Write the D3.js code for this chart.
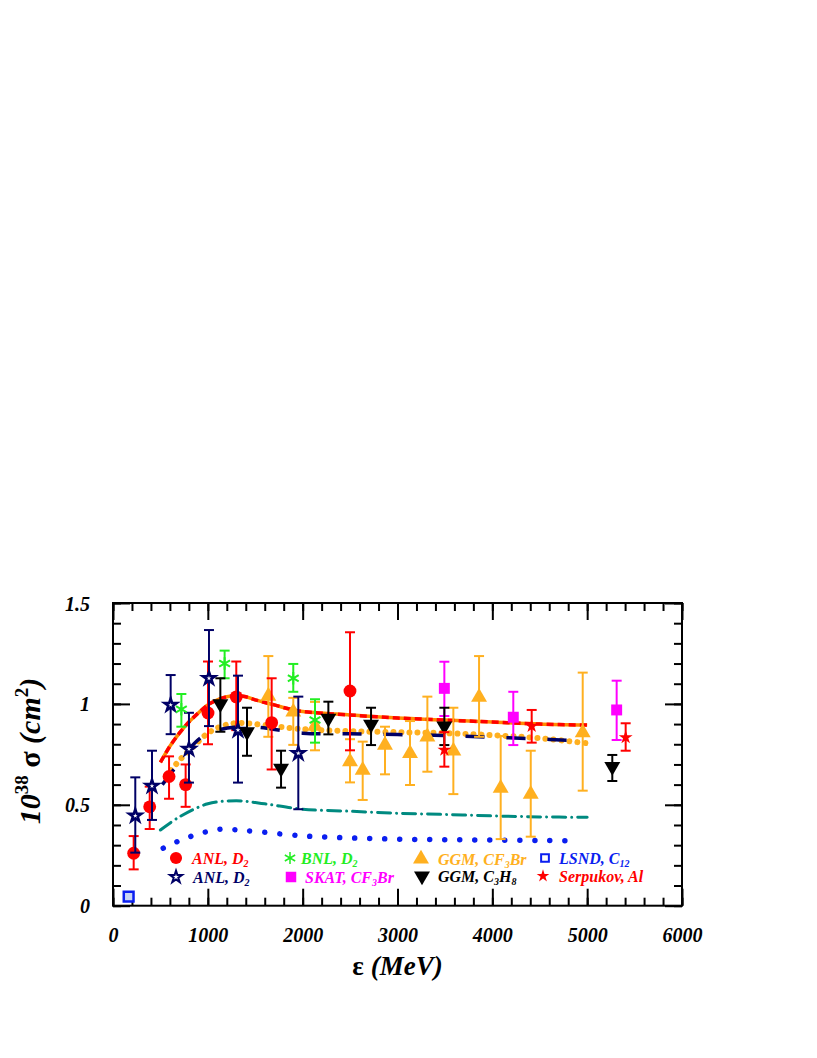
<!DOCTYPE html>
<html>
<head>
<meta charset="utf-8">
<script src="https://cdn.jsdelivr.net/npm/d3@7"></script>
<style>
  body { margin: 0; background: #fff; }
  svg text { font-family: "Liberation Serif", "Times New Roman", serif; }
</style>
</head>
<body>
<svg id="chart" width="817" height="1058"></svg>
<script>
// axes ticks
const xMajor = [0, 1000, 2000, 3000, 4000, 5000, 6000];
const xTickLabels = ["0", "1000", "2000", "3000", "4000", "5000", "6000"];
const yMajor = [0, 0.5, 1, 1.5];
const yTickLabels = ["0", "0.5", "1", "1.5"];
const xMinor = d3.range(0, 6001, 200);
const yMinor = d3.range(0, 1.501, 0.1);

// data points: [E (MeV), sigma, low, high]
const anlRed = [
  [218, 0.26, 0.18, 0.345], [387, 0.49, 0.38, 0.59], [591, 0.64, 0.53, 0.74],
  [766, 0.60, 0.49, 0.70], [1002, 0.955, 0.80, 1.21], [1300, 1.035, 0.87, 1.21],
  [1673, 0.907, 0.675, 1.127], [2499, 1.064, 0.77, 1.355]
];
const anlNavy = [
  [235, 0.446, 0.263, 0.636], [411, 0.593, 0.425, 0.768], [608, 0.995, 0.85, 1.143],
  [801, 0.776, 0.61, 0.956], [1012, 1.127, 0.89, 1.366], [1318, 0.87, 0.61, 1.14],
  [1954, 0.755, 0.478, 1.036]
];
const bnl = [
  [721, 0.973, 0.887, 1.049], [1177, 1.20, 1.127, 1.264],
  [1901, 1.127, 1.06, 1.198], [2130, 0.92, 0.808, 1.023]
];
const ggmCF3Br = [
  [1638, 1.039, 0.837, 1.237], [1901, 0.96, 0.797, 1.03], [2130, 0.89, 0.77, 1.01],
  [2499, 0.714, 0.611, 0.825], [2633, 0.672, 0.524, 0.813], [2868, 0.796, 0.651, 0.887],
  [3132, 0.755, 0.598, 0.915], [3315, 0.837, 0.664, 1.036], [3589, 0.767, 0.553, 0.981],
  [3860, 1.033, 0.837, 1.237], [4088, 0.582, 0.33, 0.841], [4405, 0.553, 0.342, 0.768],
  [4953, 0.857, 0.57, 1.155]
];
const skat = [
  [3494, 1.077, 0.94, 1.209], [4221, 0.934, 0.796, 1.06], [5311, 0.97, 0.821, 1.115]
];
const ggmC3H8 = [
  [1132, 1.0, 0.862, 1.127], [1413, 0.862, 0.743, 0.981], [1772, 0.681, 0.585, 0.768],
  [2271, 0.929, 0.849, 1.011], [2721, 0.899, 0.796, 0.981], [3494, 0.89, 0.796, 0.981],
  [5265, 0.689, 0.618, 0.747]
];
const serpukov = [
  [3494, 0.772, 0.689, 0.86], [4415, 0.89, 0.808, 0.97], [5406, 0.834, 0.768, 0.904]
];
const lsnd = [[165, 0.045, 0.035, 0.055]];

// model curves: [E, sigma]
const curveSolid = [
  [500, 0.71], [600, 0.79], [700, 0.855], [800, 0.91], [900, 0.955], [1000, 0.995],
  [1100, 1.02], [1200, 1.035], [1300, 1.04], [1400, 1.035], [1500, 1.02], [1700, 0.995],
  [1900, 0.97], [2000, 0.962], [2500, 0.945], [3000, 0.93], [3500, 0.92], [4000, 0.91],
  [4500, 0.9], [5000, 0.895]
];
const curveDashed = curveSolid;
const curveOrangeDots = [
  [560, 0.64], [700, 0.72], [850, 0.79], [1000, 0.855], [1150, 0.89], [1300, 0.905],
  [1500, 0.9], [2000, 0.875], [2500, 0.865], [3000, 0.86], [3500, 0.855], [4000, 0.845],
  [4500, 0.83], [5000, 0.805]
];
const curveNavy = [
  [520, 0.6], [650, 0.68], [800, 0.775], [950, 0.84], [1100, 0.87], [1300, 0.885],
  [1500, 0.885], [2000, 0.855], [2500, 0.852], [3000, 0.848], [3500, 0.843],
  [4000, 0.835], [4500, 0.826], [4800, 0.82]
];
const curveTeal = [
  [500, 0.375], [700, 0.44], [1000, 0.505], [1300, 0.52], [1600, 0.505], [2000, 0.478],
  [2500, 0.468], [3000, 0.458], [3500, 0.452], [4000, 0.445], [4500, 0.44], [5000, 0.438]
];
const curveBlue = [
  [530, 0.285], [680, 0.318], [830, 0.345], [1000, 0.368], [1150, 0.38], [1300, 0.376],
  [1500, 0.368], [2000, 0.346], [2500, 0.336], [3000, 0.33], [3500, 0.327],
  [4000, 0.325], [4500, 0.323], [4900, 0.322]
];

const pLeft = 113, pRight = 682, pTop = 603, pBottom = 905.7;
const x = d3.scaleLinear().domain([0, 6000]).range([pLeft, pRight]);
const y = d3.scaleLinear().domain([0, 1.5]).range([pBottom, pTop]);

const svg = d3.select("#chart");
svg.append("rect").attr("width", 817).attr("height", 1058).attr("fill", "#fff");

// ticks on four sides
function ticks(axis, tr, vals, size) {
  const g = svg.append("g").attr("transform", tr)
    .call(axis.tickValues(vals).tickSize(-size).tickFormat(""));
  g.select(".domain").remove();
  g.selectAll("line").attr("stroke", "#000").attr("stroke-width", 2);
  return g;
}
ticks(d3.axisBottom(x), `translate(0,${pBottom})`, xMinor, 8);
ticks(d3.axisTop(x), `translate(0,${pTop})`, xMinor, 8);
ticks(d3.axisLeft(y), `translate(${pLeft},0)`, yMinor, 8);
ticks(d3.axisRight(y), `translate(${pRight},0)`, yMinor, 8);
ticks(d3.axisTop(x), `translate(0,${pTop})`, xMajor, 17);
ticks(d3.axisRight(y), `translate(${pRight},0)`, yMajor, 17);

const gxb = svg.append("g").attr("transform", `translate(0,${pBottom})`)
  .call(d3.axisBottom(x).tickValues(xMajor).tickSize(-17).tickFormat((d, i) => xTickLabels[i]));
gxb.select(".domain").remove();
gxb.selectAll("line").attr("stroke", "#000").attr("stroke-width", 2);
gxb.selectAll("text").attr("y", 36).attr("dy", 0)
  .style("font-size", "20px").style("font-weight", "bold").style("font-style", "italic")
  .attr("fill", "#000");

const gyl = svg.append("g").attr("transform", `translate(${pLeft},0)`)
  .call(d3.axisLeft(y).tickValues(yMajor).tickSize(-17).tickFormat((d, i) => yTickLabels[i]));
gyl.select(".domain").remove();
gyl.selectAll("line").attr("stroke", "#000").attr("stroke-width", 2);
gyl.selectAll("text").attr("x", -23).attr("dy", "0.35em")
  .style("font-size", "20px").style("font-weight", "bold").style("font-style", "italic")
  .attr("fill", "#000");

svg.append("rect").attr("x", pLeft).attr("y", pTop)
  .attr("width", pRight - pLeft).attr("height", pBottom - pTop)
  .attr("fill", "none").attr("stroke", "#000").attr("stroke-width", 2);

// curves
const line = d3.line().x(d => x(d[0])).y(d => y(d[1])).curve(d3.curveCatmullRom);
function curve(data, color, width, dash, cap) {
  svg.append("path").attr("d", line(data)).attr("fill", "none")
    .attr("stroke", color).attr("stroke-width", width)
    .attr("stroke-dasharray", dash).attr("stroke-linecap", cap || "butt");
}
curve(curveBlue, "#0a1ef0", 5.5, "0.01 15", "round");
curve(curveTeal, "#008a80", 3, "13 6 0.01 6", "round");
curve(curveOrangeDots, "#ffb020", 6, "0.01 8", "round");
curve(curveNavy, "#000066", 3.5, "19 22");
curve(curveSolid, "#ff8c00", 3.5, null);
curve(curveDashed, "#ff0000", 3.5, "7 4");

// error bars + markers
function series(data, color, symbol, size, fill, strokeW) {
  const g = svg.append("g");
  data.forEach(d => {
    const cx = x(d[0]);
    g.append("line").attr("x1", cx).attr("x2", cx).attr("y1", y(d[2])).attr("y2", y(d[3]))
      .attr("stroke", color).attr("stroke-width", 2);
    [d[2], d[3]].forEach(v => {
      g.append("line").attr("x1", cx - 5).attr("x2", cx + 5).attr("y1", y(v)).attr("y2", y(v))
        .attr("stroke", color).attr("stroke-width", 2);
    });
  });
  g.selectAll("path.m").data(data).enter().append("path").attr("class", "m")
    .attr("transform", d => `translate(${x(d[0])},${y(d[1])})` + (symbol.rot ? ` rotate(${symbol.rot})` : ""))
    .attr("d", d3.symbol().type(symbol.type).size(size))
    .attr("fill", fill).attr("stroke", color).attr("stroke-width", strokeW || 0);
}
const star = { type: d3.symbolStar };
series(ggmCF3Br, "#ffb020", { type: d3.symbolTriangle }, 110, "#ffb020");
series(anlRed, "#ff0000", { type: d3.symbolCircle }, 130, "#ff0000");
series(anlNavy, "#000066", star, 48, "#fff", 2.5);
series(bnl, "#22ee22", { type: d3.symbolAsterisk }, 110, "none", 2);
series(skat, "#ff00ff", { type: d3.symbolSquare }, 120, "#ff00ff");
series(ggmC3H8, "#000", { type: d3.symbolTriangle, rot: 180 }, 110, "#000");
series(serpukov, "#ff0000", star, 60, "#ff0000");
series(lsnd, "#0a1ef0", { type: d3.symbolSquare }, 95, "#c8d4f4", 2.5);

// legend
const legend = [
  { x: 176, y: 858, sym: d3.symbolCircle, size: 115, fill: "#ff0000", stroke: "#ff0000", sw: 0,
    tx: 192, color: "#ff0000", parts: [["ANL, D"], ["2", "sub"]] },
  { x: 290, y: 858, sym: d3.symbolAsterisk, size: 100, fill: "none", stroke: "#22ee22", sw: 1.5,
    tx: 301, color: "#22ee22", parts: [["BNL, D"], ["2", "sub"]] },
  { x: 421, y: 859, sym: d3.symbolTriangle, size: 110, fill: "#ffb020", stroke: "#ffb020", sw: 0,
    tx: 438, color: "#ffb020", parts: [["GGM, CF"], ["3", "sub"], ["Br", "up"]] },
  { x: 545, y: 858, sym: d3.symbolSquare, size: 60, fill: "#fff", stroke: "#0a1ef0", sw: 2,
    tx: 559, color: "#0a1ef0", parts: [["LSND, C"], ["12", "sub"]] },
  { x: 176, y: 877, sym: d3.symbolStar, size: 45, fill: "#fff", stroke: "#000066", sw: 2,
    tx: 193, color: "#000066", parts: [["ANL, D"], ["2", "sub"]] },
  { x: 291, y: 877, sym: d3.symbolSquare, size: 110, fill: "#ff00ff", stroke: "#ff00ff", sw: 0,
    tx: 305, color: "#ff00ff", parts: [["SKAT, CF"], ["3", "sub"], ["Br", "up"]] },
  { x: 422, y: 876, sym: d3.symbolTriangle, rot: 180, size: 110, fill: "#000", stroke: "#000", sw: 0,
    tx: 438, color: "#000", parts: [["GGM, C"], ["3", "sub"], ["H", "up"], ["8", "sub"]] },
  { x: 543, y: 876, sym: d3.symbolStar, size: 50, fill: "#ff0000", stroke: "#ff0000", sw: 0,
    tx: 559, color: "#ff0000", parts: [["Serpukov, Al"]] }
];
legend.forEach(l => {
  svg.append("path")
    .attr("transform", `translate(${l.x},${l.y})` + (l.rot ? ` rotate(${l.rot})` : ""))
    .attr("d", d3.symbol().type(l.sym).size(l.size))
    .attr("fill", l.fill).attr("stroke", l.stroke).attr("stroke-width", l.sw);
  const t = svg.append("text").attr("x", l.tx).attr("y", l.y + 5.5)
    .attr("fill", l.color).style("font-size", "16px")
    .style("font-weight", "bold").style("font-style", "italic");
  l.parts.forEach(p => {
    const s = t.append("tspan").text(p[0]);
    if (p[1] === "sub") s.attr("dy", 3).style("font-size", "10px");
    if (p[1] === "up") s.attr("dy", -3).style("font-size", "16px");
  });
});

// axis titles
const xt = svg.append("text").attr("x", (pLeft + pRight) / 2).attr("y", 975)
  .attr("text-anchor", "middle").style("font-size", "27px").style("font-weight", "bold");
xt.append("tspan").text("ε ");
xt.append("tspan").text("(MeV)").style("font-style", "italic");

const yt = svg.append("text").attr("transform", "translate(40,751) rotate(-90)")
  .attr("text-anchor", "middle").style("font-size", "30px").style("font-weight", "bold");
yt.append("tspan").text("10").style("font-style", "italic");
yt.append("tspan").text("38").attr("dy", -12).style("font-size", "19px");
yt.append("tspan").text(" σ ").attr("dy", 12);
yt.append("tspan").text("(cm").style("font-style", "italic");
yt.append("tspan").text("2").attr("dy", -12).style("font-size", "19px");
yt.append("tspan").text(")").attr("dy", 12).style("font-style", "italic");
</script>
</body>
</html>
